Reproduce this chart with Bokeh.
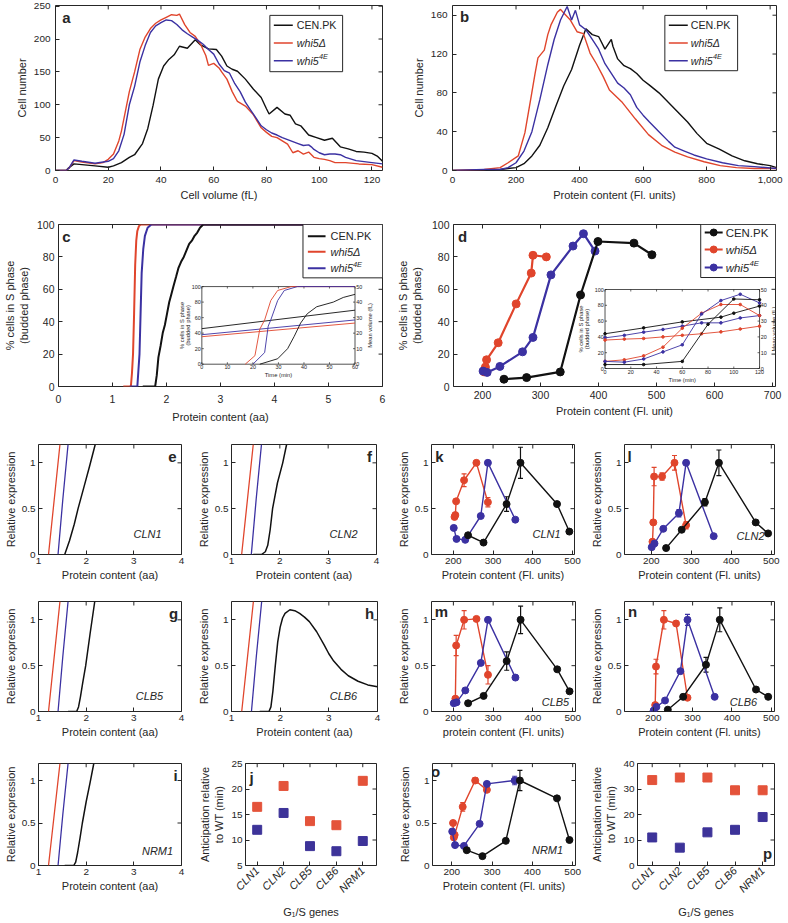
import math
from bokeh.plotting import figure
from bokeh.models import Range1d, FixedTicker, Whisker, TeeHead, ColumnDataSource
from bokeh.layouts import row, column
from bokeh.core.properties import value
from bokeh.embed import file_html
from bokeh.resources import INLINE

# ======================= DATA =======================
STRAIN_LABELS = ["CEN.PK", "whi5\u0394", "whi5"]
STRAIN_SUPERS = ["", "", "4E"]

# panel a: cell volume histograms
A_BLACK_X = [0, 4, 5, 7, 10, 15, 20, 22, 25, 28, 30, 33, 35, 37, 39, 41, 43, 45, 47, 50, 53, 55, 58, 61, 63, 65,
             67, 69, 72, 75, 78, 80, 81, 84, 87, 89, 91, 93, 96, 99, 102, 105, 108, 111, 114, 117, 120, 122, 124]
A_BLACK_Y = [0, 0, 4, 10, 9, 7, 5, 7, 12, 20, 24, 41, 64, 99, 139, 159, 169, 176, 189, 186, 199, 191, 185, 184, 174,
             159, 154, 151, 139, 124, 111, 94, 86, 96, 86, 84, 71, 68, 54, 50, 46, 49, 36, 33, 29, 28, 26, 22, 14]
A_RED_X = [0, 4, 5, 7, 10, 15, 18, 20, 22, 24, 25, 28, 30, 32, 34, 36, 38, 40, 42, 44, 46, 47, 49, 51, 53, 55, 57,
           58, 60, 62, 63, 65, 67, 69, 72, 75, 78, 80, 82, 84, 86, 88, 90, 92, 94, 96, 98, 100, 102, 104, 106, 110,
           115, 120, 124]
A_RED_Y = [0, 0, 3, 15, 13, 10, 12, 17, 25, 45, 60, 120, 150, 184, 203, 216, 224, 229, 233, 237, 236, 238, 222, 210,
           204, 192, 175, 160, 163, 156, 150, 139, 120, 105, 98, 85, 65, 58, 52, 50, 45, 40, 27, 30, 25, 28, 20, 18, 17,
           15, 12, 12, 10, 9, 5]
A_BLUE_X = [0, 4, 5, 7, 10, 15, 20, 22, 24, 26, 28, 30, 32, 34, 36, 38, 40, 42, 44, 46, 48, 50, 52, 54, 56, 58, 60,
            62, 64, 66, 68, 70, 72, 74, 76, 78, 80, 82, 84, 86, 88, 90, 92, 94, 96, 97, 98, 100, 102, 104, 106, 108,
            110, 114, 120, 124]
A_BLUE_Y = [0, 0, 3, 16, 14, 11, 14, 18, 30, 55, 100, 128, 165, 190, 210, 220, 225, 229, 228, 222, 214, 208, 203,
            198, 192, 184, 177, 162, 152, 148, 132, 120, 104, 92, 80, 68, 62, 57, 54, 50, 47, 44, 41, 38, 39, 36, 32,
            27, 24, 25, 25, 24, 20, 15, 12, 10]

# panel b: protein content histograms
B_BLACK_X = [0, 100, 150, 175, 200, 225, 250, 275, 300, 325, 350, 375, 400, 420, 440, 460, 480, 500, 505, 520, 540,
             560, 580, 600, 620, 650, 680, 710, 740, 770, 800, 840, 880, 920, 960, 1000, 1020]
B_BLACK_Y = [0, 0, 1, 2, 3, 7, 15, 26, 44, 66, 87, 104, 129, 146, 140, 138, 125, 135, 128, 115, 108, 105, 100, 93,
             88, 80, 70, 60, 50, 38, 28, 22, 15, 10, 7, 5, 3]
B_RED_X = [0, 100, 150, 175, 207, 228, 248, 260, 269, 289, 300, 310, 330, 340, 351, 371, 392, 412, 433, 453, 474,
           494, 535, 576, 617, 658, 700, 740, 792, 843, 894, 950, 1020]
B_RED_Y = [0, 1, 3, 8, 15, 39, 77, 100, 116, 124, 140, 150, 163, 166, 162, 155, 143, 141, 121, 110, 97, 83, 70, 53,
           37, 26, 19, 14, 9, 5, 3, 2, 2]
B_BLUE_X = [0, 100, 150, 175, 200, 225, 250, 275, 300, 320, 340, 361, 375, 387, 400, 420, 440, 460, 480, 500, 520,
            540, 560, 580, 600, 620, 650, 680, 700, 730, 760, 800, 850, 900, 950, 1020]
B_BLUE_Y = [0, 1, 1, 3, 8, 20, 40, 73, 109, 135, 155, 169, 155, 165, 150, 145, 135, 125, 110, 100, 90, 85, 78, 65,
            57, 50, 40, 30, 24, 20, 16, 12, 8, 5, 4, 2]

# panel c: % budded vs protein content (aa)
C_RED_X = [1.20, 1.34, 1.36, 1.38, 1.40, 1.42, 1.44, 1.46, 1.49, 1.52, 5.40]
C_RED_Y = [0, 0, 8, 20, 45, 75, 90, 96, 99, 100, 100]
C_BLUE_X = [1.32, 1.46, 1.48, 1.50, 1.52, 1.54, 1.57, 1.60, 1.65, 1.72, 5.40]
C_BLUE_Y = [0, 0, 10, 20, 45, 70, 85, 93, 98, 100, 100]
C_BLACK_X = [1.56, 1.79, 1.82, 1.85, 1.89, 1.93, 1.97, 2.01, 2.05, 2.09, 2.13, 2.18, 2.22, 2.27, 2.32, 2.37, 2.42,
             2.47, 2.52, 2.57, 2.62, 2.68, 5.40]
C_BLACK_Y = [0, 0, 7, 18, 25, 33, 38, 45, 52, 57, 62, 68, 73, 77, 80, 84, 88, 90, 93, 95, 98, 100, 100]
# inset c
CI_T_RED = [17, 20.8, 22.7, 24.6, 27, 29.7, 35, 60]
CI_P_RED = [0, 11, 45, 57, 82, 95, 100, 100]
CI_T_BLUE = [20, 24.6, 26, 27, 29.7, 32.3, 37.4, 60]
CI_P_BLUE = [0, 15, 49, 57, 82, 95, 100, 100]
CI_T_BLACK = [22.7, 29.7, 33.6, 36.2, 38.7, 41.3, 45, 51.5, 55.4, 60]
CI_P_BLACK = [0, 7, 20, 36, 53, 65, 74, 80, 86, 90]
CI_VOL_T = [0, 60]
CI_VOL_BLACK = [22.9, 34.8]
CI_VOL_RED = [17.7, 26.5]
CI_VOL_BLUE = [19.0, 28.5]

# panel d: % budded vs protein content (Fl. unit)
D_RED_X = [203, 205, 207, 227, 258, 284, 287, 310]
D_RED_Y = [9, 12, 16.5, 27, 51, 70, 81, 80]
D_BLUE_X = [201, 208, 230, 269, 287, 318, 356, 374, 394]
D_BLUE_Y = [9.5, 8.7, 12.4, 21.4, 30.3, 68.9, 86.7, 94.3, 83.6]
D_BLACK_X = [237, 276, 334, 369, 399, 461, 492]
D_BLACK_Y = [4.5, 5.5, 9, 56.5, 89.5, 88.5, 81.3]
# inset d
DI_T = [0, 15, 30, 45, 60, 75, 90, 105, 120]
DI_P_RED = [9, 11, 16, 27, 51, 70, 81, 81, 67]
DI_P_BLUE = [9, 8, 12, 21, 30, 69, 86, 94, 83]
DI_T_BLACK = [0, 30, 60, 80, 100, 120]
DI_P_BLACK = [5, 5, 9, 56, 88, 87]
DI_VT_BLACK = [0, 30, 60, 90, 100, 120]
DI_V_BLACK = [22, 25.7, 29.5, 32.5, 35, 39.5]
DI_V_RED = [18, 18.6, 19, 20, 21, 22, 23.2, 25, 26.8]
DI_V_BLUE = [19.4, 21, 23, 24.7, 26.8, 28.9, 28.9, 32, 33.5]

# panels e-i: model expression vs protein content (aa)
MODEL_RED_X = [1.21, 1.33, 1.45]
MODEL_RED_Y = [0, 0.6, 1.2]
MODEL_BLUE_X = [1.41, 1.51, 1.62]
MODEL_BLUE_Y = [0, 0.6, 1.2]
E_BLACK_X = [1.55, 1.65, 1.75, 1.83, 1.95, 2.07, 2.19]
E_BLACK_Y = [0, 0.15, 0.33, 0.5, 0.73, 0.96, 1.2]
F_BLACK_X = [1.45, 1.62, 1.70, 1.75, 1.80, 1.85, 1.95, 2.06, 2.14]
F_BLACK_Y = [0, 0, 0.03, 0.10, 0.27, 0.5, 0.78, 1.0, 1.2]
G_BLACK_X = [1.62, 1.80, 1.84, 1.88, 1.93, 1.99, 2.08, 2.18]
G_BLACK_Y = [0, 0, 0.05, 0.16, 0.32, 0.5, 0.84, 1.2]
H_BLACK_X = [1.58, 1.77, 1.81, 1.85, 1.90, 1.95, 2.00, 2.05, 2.10, 2.20, 2.30, 2.40, 2.50, 2.60, 2.75, 2.90, 3.00,
             3.10, 3.25, 3.40, 3.60, 3.80, 4.00]
H_BLACK_Y = [0, 0, 0.05, 0.22, 0.5, 0.76, 0.92, 1.02, 1.07, 1.11, 1.10, 1.07, 1.03, 0.98, 0.87, 0.73, 0.63, 0.55,
             0.46, 0.39, 0.33, 0.29, 0.27]
I_BLACK_X = [1.55, 1.74, 1.78, 1.82, 1.87, 1.92, 2.00, 2.08, 2.16]
I_BLACK_Y = [0, 0, 0.04, 0.15, 0.32, 0.5, 0.75, 0.97, 1.2]

# panels k-o: measured expression vs protein content (Fl. units)
RED_X6 = [203, 205, 207, 227, 258, 287]
RED_X5 = [205, 207, 227, 258, 287]
BLUE_X = [201, 208, 230, 269, 287, 356]
BLACK_X = [237, 276, 334, 369, 461, 492]
K_RED = [0.41, 0.43, 0.58, 0.81, 1.00, 0.57]; K_RED_E = [0, 0, 0, 0.07, 0, 0.05]
K_BLUE = [0.29, 0.17, 0.16, 0.42, 1.00, 0.38]; K_BLUE_E = [0, 0, 0, 0, 0, 0]
K_BLACK = [0.21, 0.13, 0.55, 1.00, 0.55, 0.25]; K_BLACK_E = [0, 0, 0.08, 0.17, 0, 0]
L_RED = [0.14, 0.35, 0.85, 0.85, 1.00, 0.32]; L_RED_E = [0, 0, 0.10, 0.04, 0.08, 0.04]
L_BLUE = [0.08, 0.12, 0.28, 0.45, 1.00, 0.20]; L_BLUE_E = [0, 0, 0, 0.04, 0, 0]
L_BLACK = [0.07, 0.27, 0.57, 1.00, 0.35, 0.23]; L_BLACK_E = [0, 0, 0.04, 0.14, 0, 0]
M_RED = [0.14, 0.72, 1.00, 1.01, 0.40]; M_RED_E = [0, 0.11, 0.10, 0, 0.10]
M_BLUE = [0.09, 0.10, 0.23, 0.53, 1.00, 0.37]; M_BLUE_E = [0, 0, 0, 0, 0, 0]
M_BLACK = [0.09, 0.17, 0.55, 1.00, 0.46, 0.22]; M_BLACK_E = [0, 0, 0.10, 0.15, 0, 0]
N_RED = [0.07, 0.49, 1.00, 0.96, 0.15]; N_RED_E = [0, 0.08, 0.10, 0, 0]
N_BLUE = [0.01, 0.05, 0.12, 0.44, 1.00, 0.16]; N_BLUE_E = [0, 0, 0, 0, 0.06, 0]
N_BLACK = [0.02, 0.16, 0.51, 1.00, 0.24, 0.16]; N_BLACK_E = [0, 0, 0.08, 0.13, 0, 0]
O_RED = [0.50, 0.33, 0.36, 0.69, 1.00, 0.89]; O_RED_E = [0, 0, 0, 0.05, 0.03, 0]
O_BLUE = [0.40, 0.24, 0.23, 0.49, 0.96, 1.00]; O_BLUE_E = [0, 0, 0, 0, 0, 0.05]
O_BLACK = [0.18, 0.11, 0.29, 1.00, 0.79, 0.30]; O_BLACK_E = [0, 0, 0, 0.12, 0, 0]

# panels j, p: anticipation relative to WT (min)
GENES = ["CLN1", "CLN2", "CLB5", "CLB6", "NRM1"]
J_RED = [16.5, 20.6, 13.7, 12.9, 21.6]
J_BLUE = [12.0, 15.3, 8.8, 7.8, 9.8]
P_RED = [33.5, 34.5, 34.5, 29.5, 29.5]
P_BLUE = [11, 7, 13, 14, 19]

# ======================= STYLE / LAYOUT =======================
S = 0.997
FONT = "Liberation Sans"
INK = "#262626"
RED = "#e0452c"
BLUE = "#3b31a2"
BLACK = "#111111"
SQ_RED = "#e4533a"
SQ_BLUE = "#3d3399"


def px(v):
    return f"{v * S:.2f}px"


def style_axis(ax, fs, lfs, ts, ls):
    ax.axis_line_color = None
    ax.major_tick_in = 4
    ax.major_tick_out = 0
    ax.major_tick_line_color = INK
    ax.major_tick_line_width = 1
    ax.minor_tick_line_color = None
    ax.major_label_text_font = FONT
    ax.major_label_text_font_size = px(fs)
    ax.major_label_text_color = INK
    ax.major_label_standoff = ts
    ax.axis_label_text_font = FONT
    ax.axis_label_text_font_size = px(lfs)
    ax.axis_label_text_font_style = "normal"
    ax.axis_label_text_color = INK
    ax.axis_label_standoff = ls


class Panel:
    def __init__(self, box, frame, xr, yr, xticks, yticks, xlabel, ylabel, fs=10.0, lfs=11.0,
                 ts=5, ls=3, xts=None, xls=None, xover=None, yover=None):
        self.frame = frame
        self.xr = xr
        self.yr = yr
        x0, y0, x1, y1 = box
        L, T, R, B = frame
        w = round((x1 - x0) * S)
        h = round((y1 - y0) * S)
        bl = round((L - x0) * S)
        fw = round((R - L) * S)
        br = w - bl - fw
        bt = round((T - y0) * S)
        fh = round((B - T) * S)
        bb = h - bt - fh
        p = figure(width=w, height=h, min_border_left=bl, min_border_right=br, min_border_top=bt,
                   min_border_bottom=bb, x_range=Range1d(*xr), y_range=Range1d(*yr),
                   output_backend="svg", toolbar_location=None, tools="")
        p.xgrid.visible = False
        p.ygrid.visible = False
        p.outline_line_color = INK
        p.outline_line_width = 1
        p.outline_line_alpha = 1
        p.background_fill_color = "white"
        p.border_fill_color = "white"
        self.bx = p.below[0]
        self.ly = p.left[0]
        self.bx.ticker = FixedTicker(ticks=xticks)
        self.ly.ticker = FixedTicker(ticks=yticks)
        self.bx.axis_label = xlabel
        self.ly.axis_label = ylabel
        if xover:
            self.bx.major_label_overrides = xover
        if yover:
            self.ly.major_label_overrides = yover
        style_axis(self.bx, fs, lfs, ts if xts is None else xts, ls if xls is None else xls)
        style_axis(self.ly, fs, lfs, ts, ls)
        self.p = p
        # inward ticks on the top and right edges of the box
        tx = 4.0 * (xr[1] - xr[0]) / (R - L)
        ty = 4.0 * (yr[1] - yr[0]) / (B - T)
        n = len(xticks)
        m = len(yticks)
        p.segment(x0=xticks, y0=[yr[1]] * n, x1=xticks, y1=[yr[1] - ty] * n, line_color=INK, line_width=1)
        p.segment(x0=[xr[1]] * m, y0=yticks, x1=[xr[1] - tx] * m, y1=yticks, line_color=INK, line_width=1)

    def pt(self, X, Y):
        L, T, R, B = self.frame
        x = self.xr[0] + (X - L) / (R - L) * (self.xr[1] - self.xr[0])
        y = self.yr[1] - (Y - T) / (B - T) * (self.yr[1] - self.yr[0])
        return x, y

    def text(self, X, Y, s, size, style="normal", align="center", baseline="middle", color=INK, angle=0.0):
        x, y = self.pt(X, Y)
        self.p.text(x=[x], y=[y], text=[s], text_font=value(FONT), text_font_size=value(px(size)),
                    text_font_style=value(style), text_align=value(align), text_baseline=value(baseline),
                    text_color=value(color), angle=angle)


def legend(P, box, rows_y, x_line, x_text, fs, lw, marker=False):
    L, T, R, B = box
    x0, y0 = P.pt(L, B)
    x1, y1 = P.pt(R, T)
    P.p.quad(left=[x0], right=[x1], bottom=[y0], top=[y1], fill_color="white", line_color=INK, line_width=1)
    colors = [BLACK, RED, BLUE]
    for i, (lab, sup) in enumerate(zip(STRAIN_LABELS, STRAIN_SUPERS)):
        yy = rows_y[i]
        xa, ya = P.pt(x_line[0], yy)
        xb, _ = P.pt(x_line[1], yy)
        P.p.line([xa, xb], [ya, ya], line_color=colors[i], line_width=lw)
        if marker:
            P.p.scatter([(xa + xb) / 2], [ya], size=7 * S, fill_color=colors[i], line_color=colors[i])
        style = "normal" if i == 0 else "italic"
        P.text(x_text, yy, lab, fs, style=style, align="left")
        if sup:
            P.text(x_text + 2.056 * fs + 0.3, yy - 0.38 * fs, sup, fs * 0.68, style="italic", align="left")


def inset(P, box, xlim, ylim, vlim, xt, yt, vt, xlab, ylab, vlab, yl_off, vl_off,
          series_p, series_v, marker=False):
    L, T, R, B = P.frame
    iL, iT, iR, iB = box
    ux = (xlim[1] - xlim[0]) / (iR - iL)
    uy = (ylim[1] - ylim[0]) / (iB - iT)
    uv = (vlim[1] - vlim[0]) / (iB - iT)
    p = P.p
    p.extra_x_ranges = {"ix": Range1d(xlim[0] - (iL - L) * ux, xlim[1] + (R - iR) * ux)}
    p.extra_y_ranges = {"iy": Range1d(ylim[0] - (B - iB) * uy, ylim[1] + (iT - T) * uy),
                        "iv": Range1d(vlim[0] - (B - iB) * uv, vlim[1] + (iT - T) * uv)}
    kp = dict(x_range_name="ix", y_range_name="iy")
    kv = dict(x_range_name="ix", y_range_name="iv")
    p.quad(left=[xlim[0]], right=[xlim[1]], bottom=[ylim[0]], top=[ylim[1]], fill_color="white",
           line_color=INK, line_width=0.8, **kp)
    tl = 2.0
    tfs = value(px(5.4))
    tk = dict(line_color=INK, line_width=0.7)
    n = len(xt)
    p.segment(x0=xt, y0=[ylim[0]] * n, x1=xt, y1=[ylim[0] + tl * uy] * n, **tk, **kp)
    p.segment(x0=xt, y0=[ylim[1]] * n, x1=xt, y1=[ylim[1] - tl * uy] * n, **tk, **kp)
    m = len(yt)
    p.segment(x0=[xlim[0]] * m, y0=yt, x1=[xlim[0] + tl * ux] * m, y1=yt, **tk, **kp)
    k = len(vt)
    p.segment(x0=[xlim[1]] * k, y0=vt, x1=[xlim[1] - tl * ux] * k, y1=vt, **tk, **kv)
    tx = dict(text_font=value(FONT), text_font_size=tfs, text_color=value(INK))
    p.text(x=xt, y=[ylim[0] - 1.2 * uy] * n, text=[str(t) for t in xt], text_align=value("center"),
           text_baseline=value("top"), **tx, **kp)
    p.text(x=[xlim[0] - 1.2 * ux] * m, y=yt, text=[str(t) for t in yt], text_align=value("right"),
           text_baseline=value("middle"), **tx, **kp)
    p.text(x=[xlim[1] + 1.2 * ux] * k, y=vt, text=[str(t) for t in vt], text_align=value("left"),
           text_baseline=value("middle"), **tx, **kv)
    lx = dict(text_font=value(FONT), text_font_size=value(px(5.8)), text_color=value(INK))
    p.text(x=[(xlim[0] + xlim[1]) / 2], y=[ylim[0] - 8 * uy], text=[xlab], text_align=value("center"),
           text_baseline=value("top"), **lx, **kp)
    p.text(x=[xlim[0] - yl_off * ux], y=[(ylim[0] + ylim[1]) / 2], text=[ylab], angle=math.pi / 2,
           text_align=value("center"), text_baseline=value("bottom"), text_line_height=1.0, **lx, **kp)
    p.text(x=[xlim[1] + vl_off * ux], y=[(ylim[0] + ylim[1]) / 2], text=[vlab], angle=math.pi / 2,
           text_align=value("center"), text_baseline=value("top"), **lx, **kp)
    for xs, ys, col in series_v:
        p.line(xs, ys, line_color=col, line_width=0.9, **kv)
        if marker:
            p.scatter(xs, ys, size=2.6, fill_color=col, line_color=col, **kv)
    for xs, ys, col in series_p:
        p.line(xs, ys, line_color=col, line_width=0.9, **kp)
        if marker:
            p.scatter(xs, ys, size=2.6, fill_color=col, line_color=col, **kp)


# ---------------- panel a ----------------
A = Panel((0, 0, 394, 204), (55, 5, 383, 172), (0, 124), (0, 251), [0, 20, 40, 60, 80, 100, 120],
          [0, 50, 100, 150, 200, 250], "Cell volume (fL)", "Cell number", xts=6, xls=3)
for xs, ys, c in [(A_BLACK_X, A_BLACK_Y, BLACK), (A_RED_X, A_RED_Y, RED), (A_BLUE_X, A_BLUE_Y, BLUE)]:
    A.p.line(xs, ys, line_color=c, line_width=1.4)
legend(A, (270, 15, 343, 72), [25, 43, 61], (274, 293), 297, 10.7, 1.5)
A.text(66, 17, "a", 15, style="bold")

# ---------------- panel b ----------------
B = Panel((394, 0, 788, 204), (453, 5, 778, 172), (0, 1020), (0, 170), [0, 200, 400, 600, 800, 1000],
          [0, 40, 80, 120, 160], "Protein content (Fl. units)", "Cell number", xts=6, xls=3,
          xover={1000: "1,000"})
for xs, ys, c in [(B_BLACK_X, B_BLACK_Y, BLACK), (B_RED_X, B_RED_Y, RED), (B_BLUE_X, B_BLUE_Y, BLUE)]:
    B.p.line(xs, ys, line_color=c, line_width=1.4)
legend(B, (666, 15, 739, 71), [25, 43, 61], (670, 689), 692, 10.7, 1.5)
B.text(465, 16, "b", 15, style="bold")

# ---------------- panel c ----------------
C = Panel((0, 204, 394, 428), (53, 225, 383, 392), (0, 6), (0, 100), [0, 1, 2, 3, 4, 5, 6],
          [0, 20, 40, 60, 80, 100], "Protein content (aa)", "% cells in S phase\n(budded phase)",
          fs=10.5, ts=4, ls=4, xts=8, xls=5)
for xs, ys, c in [(C_RED_X, C_RED_Y, RED), (C_BLUE_X, C_BLUE_Y, BLUE), (C_BLACK_X, C_BLACK_Y, BLACK)]:
    C.p.line(xs, ys, line_color=c, line_width=2.0)
inset(C, (199, 289, 355, 369), (0, 60), (0, 100), (0, 50), [0, 10, 20, 30, 40, 50, 60],
      [0, 20, 40, 60, 80, 100], [0, 10, 20, 30, 40, 50], "Time (min)", "% cells in S phase\n(budded phase)",
      "Mean volume (fL)", 11, 12,
      [(CI_T_RED, CI_P_RED, RED), (CI_T_BLUE, CI_P_BLUE, BLUE), (CI_T_BLACK, CI_P_BLACK, BLACK)],
      [(CI_VOL_T, CI_VOL_BLACK, BLACK), (CI_VOL_T, CI_VOL_BLUE, BLUE), (CI_VOL_T, CI_VOL_RED, RED)])
legend(C, (302, 225, 383, 280), [237, 253, 270], (307, 325), 330, 11.0, 2.0)
C.text(61, 237, "c", 15, style="bold")

# ---------------- panel d ----------------
D = Panel((394, 204, 788, 428), (454, 225, 777, 387), (150, 705), (0, 100), [200, 300, 400, 500, 600, 700],
          [0, 20, 40, 60, 80, 100], "Protein content (Fl. unit)", "% cells in S phase\n(budded phase)",
          fs=10.5, ts=4, ls=6, xts=4, xls=3)
for xs, ys, c in [(D_RED_X, D_RED_Y, RED), (D_BLUE_X, D_BLUE_Y, BLUE), (D_BLACK_X, D_BLACK_Y, BLACK)]:
    D.p.line(xs, ys, line_color=c, line_width=2.2)
    D.p.scatter(xs, ys, size=8 * S, fill_color=c, line_color=c)
inset(D, (606, 290, 761, 369), (0, 120), (0, 100), (0, 50), [0, 20, 40, 60, 80, 100, 120],
      [0, 20, 40, 60, 80, 100], [0, 10, 20, 30, 40, 50], "Time (min)", "% cells in S phase\n(budded phase)",
      "Mean volume (fL)", 15, 11,
      [(DI_T, DI_P_RED, RED), (DI_T, DI_P_BLUE, BLUE), (DI_T_BLACK, DI_P_BLACK, BLACK)],
      [(DI_VT_BLACK, DI_V_BLACK, BLACK), (DI_T, DI_V_BLUE, BLUE), (DI_T, DI_V_RED, RED)], marker=True)
legend(D, (702, 225, 777, 278), [233, 250, 268], (706, 724), 727, 11.5, 2.0, marker=True)
D.text(463, 237, "d", 15, style="bold")

# ---------------- panels e-i ----------------
YOVER = {0: "0", 0.5: "0.5", 1: "1"}


def model_panel(box, frame, bx, by, gene, gpos, letter, lpos):
    P = Panel(box, frame, (1, 4), (0, 1.2), [1, 2, 3, 4], [0, 0.5, 1], "Protein content (aa)",
              "Relative expression", ts=3, ls=2, yover=YOVER)
    P.p.line(MODEL_RED_X, MODEL_RED_Y, line_color=RED, line_width=1.3)
    P.p.line(MODEL_BLUE_X, MODEL_BLUE_Y, line_color=BLUE, line_width=1.3)
    P.p.line(bx, by, line_color=BLACK, line_width=1.5)
    P.text(gpos[0], gpos[1], gene, 11.0, style="italic")
    P.text(lpos[0], lpos[1], letter, 15, style="bold")
    return P


E = model_panel((0, 428, 195, 588), (38, 446, 181, 556), E_BLACK_X, E_BLACK_Y, "CLN1", (147, 535), "e", (172, 458))
F = model_panel((195, 428, 394, 588), (232, 446, 377, 556), F_BLACK_X, F_BLACK_Y, "CLN2", (344, 535), "f", (370, 458))
G = model_panel((0, 588, 195, 746), (38, 603, 181, 713), G_BLACK_X, G_BLACK_Y, "CLB5", (149, 697), "g", (173, 615))
H = model_panel((195, 588, 394, 746), (232, 603, 378, 713), H_BLACK_X, H_BLACK_Y, "CLB6", (344, 697), "h", (370, 615))
I = model_panel((0, 746, 195, 923), (38, 765, 181, 874), I_BLACK_X, I_BLACK_Y, "NRM1", (157, 858), "i", (175, 778))

# ---------------- panels k-o ----------------


def expr_panel(box, frame, xr, xlabel, reds, blues, blacks, gene, gpos, letter, lpos):
    P = Panel(box, frame, xr, (0, 1.2), [200, 300, 400, 500], [0, 0.5, 1], xlabel, "Relative expression",
              ts=3, ls=2, yover=YOVER)
    for xs, ys, es, col in [reds, blues, blacks]:
        P.p.line(xs, ys, line_color=col, line_width=1.4)
        bxs = [x for x, e in zip(xs, es) if e > 0]
        if bxs:
            src = ColumnDataSource(dict(x=bxs, lo=[y - e for y, e in zip(ys, es) if e > 0],
                                        hi=[y + e for y, e in zip(ys, es) if e > 0]))
            P.p.add_layout(Whisker(base="x", lower="lo", upper="hi", source=src, line_color=col, line_width=1.2,
                                   upper_head=TeeHead(size=5, line_color=col, line_width=1.2),
                                   lower_head=TeeHead(size=5, line_color=col, line_width=1.2)))
        P.p.scatter(xs, ys, size=7 * S, fill_color=col, line_color=col)
    P.text(gpos[0], gpos[1], gene, 11.0, style="italic")
    P.text(lpos[0], lpos[1], letter, 15, style="bold")
    return P


K = expr_panel((394, 428, 590, 588), (433, 446, 576, 556), (145, 505), "Protein content (Fl. units)",
               (RED_X6, K_RED, K_RED_E, RED), (BLUE_X, K_BLUE, K_BLUE_E, BLUE), (BLACK_X, K_BLACK, K_BLACK_E, BLACK),
               "CLN1", (548, 535), "k", (441, 458))
Lp = expr_panel((590, 428, 788, 588), (627, 446, 777, 556), (133, 508), "Protein content (Fl. units)",
                (RED_X6, L_RED, L_RED_E, RED), (BLUE_X, L_BLUE, L_BLUE_E, BLUE), (BLACK_X, L_BLACK, L_BLACK_E, BLACK),
                "CLN2", (753, 537), "l", (632, 458))
M = expr_panel((394, 588, 590, 746), (433, 603, 577, 713), (145, 507), "protein content (Fl. units)",
               (RED_X5, M_RED, M_RED_E, RED), (BLUE_X, M_BLUE, M_BLUE_E, BLUE), (BLACK_X, M_BLACK, M_BLACK_E, BLACK),
               "CLB5", (557, 703), "m", (443, 613))
N = expr_panel((590, 588, 788, 746), (627, 603, 777, 713), (127, 508), "Protein content (Fl. units)",
               (RED_X5, N_RED, N_RED_E, RED), (BLUE_X, N_BLUE, N_BLUE_E, BLUE), (BLACK_X, N_BLACK, N_BLACK_E, BLACK),
               "CLB6", (746, 703), "n", (635, 613))
O = expr_panel((394, 746, 590, 923), (434, 764, 577, 875), (152, 507), "Protein content (Fl. units)",
               (RED_X6, O_RED, O_RED_E, RED), (BLUE_X, O_BLUE, O_BLUE_E, BLUE), (BLACK_X, O_BLACK, O_BLACK_E, BLACK),
               "NRM1", (549, 858), "o", (437, 773))

# ---------------- panels j, p ----------------
GPOS = list(range(1, len(GENES) + 1))
GOVER = {i: g for i, g in zip(GPOS, GENES)}


def antic_panel(box, frame, xr, yr, yticks, reds, blues, letter, lpos):
    P = Panel(box, frame, xr, yr, GPOS, yticks, "G\u2081/S genes", "Anticipation relative\nto WT (min)",
              ts=3, ls=3, xts=3, xls=4, xover=GOVER)
    P.bx.major_label_orientation = math.pi / 4
    P.bx.major_label_text_font_style = "italic"
    P.bx.major_label_text_font_size = px(11)
    P.p.scatter(GPOS, reds, marker="square", size=9 * S, fill_color=SQ_RED, line_color=SQ_RED)
    P.p.scatter(GPOS, blues, marker="square", size=9 * S, fill_color=SQ_BLUE, line_color=SQ_BLUE)
    P.text(lpos[0], lpos[1], letter, 15, style="bold")
    return P


J = antic_panel((195, 746, 394, 923), (246, 765, 377, 875), (0.557, 5.52), (5, 25), [5, 10, 15, 20, 25],
                J_RED, J_BLUE, "j", (252, 780))
Pp = antic_panel((590, 746, 788, 923), (640, 765, 777, 875), (0.467, 5.43), (0, 40), [0, 10, 20, 30, 40],
                 P_RED, P_BLUE, "p", (770, 862))

layout = column(
    row(A.p, B.p),
    row(C.p, D.p),
    row(E.p, F.p, K.p, Lp.p),
    row(G.p, H.p, M.p, N.p),
    row(I.p, J.p, O.p, Pp.p),
)

open("out.html", "w").write(file_html(layout, INLINE))
